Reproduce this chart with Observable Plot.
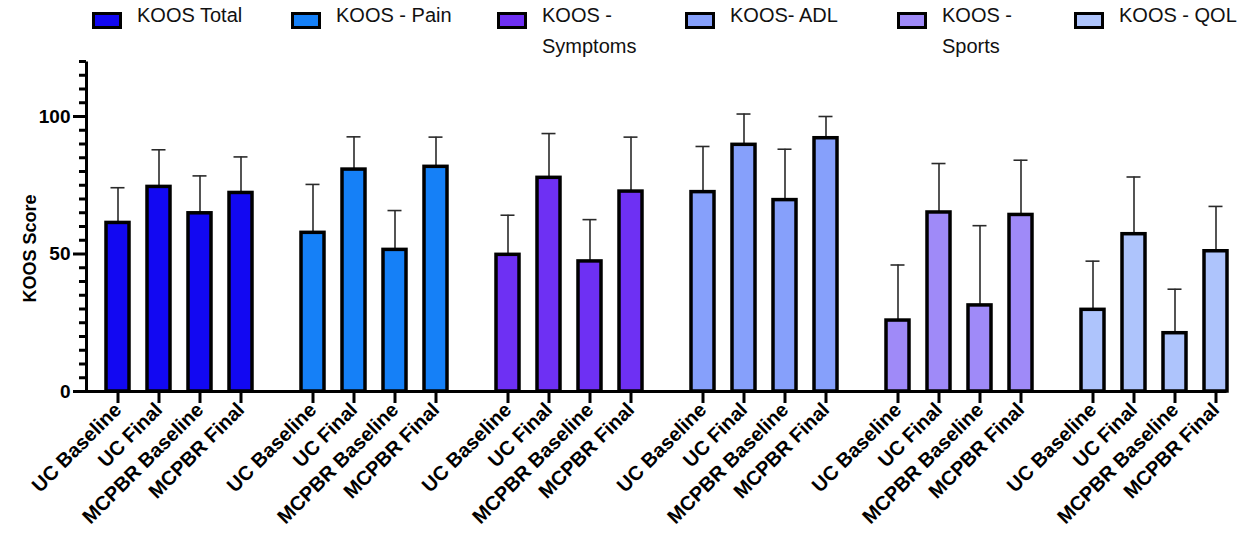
<!DOCTYPE html>
<html>
<head>
<meta charset="utf-8">
<script src="https://cdn.jsdelivr.net/npm/d3@7"></script>
<script src="https://cdn.jsdelivr.net/npm/@observablehq/plot@0.6"></script>
<style>
  html, body { margin: 0; padding: 0; background: #fff; }
  #wrap { position: relative; width: 1258px; height: 534px; font-family: "Liberation Sans", Arial, sans-serif; }
  #legend { position: absolute; top: 6px; left: 0; display: flex; padding-left: 92px; }
  .item { display: flex; align-items: flex-start; }
  .sw { width: 30px; height: 17px; box-sizing: border-box; border: 3px solid #000; margin-top: 6px; margin-right: 15px; flex: none; }
  .lab { font-size: 20px; line-height: 31px; white-space: pre-line; color: #111; margin-top: -6px; }
  #chart { position: absolute; top: 0; left: 0; }
</style>
</head>
<body>
<div id="wrap">
  <div id="chart"></div>
  <div id="legend"></div>
</div>
<script>
// ---- data ----
const groups = ["KOOS Total", "KOOS - Pain", "KOOS - Symptoms", "KOOS- ADL", "KOOS - Sports", "KOOS - QOL"];
const legendLabels = ["KOOS Total", "KOOS - Pain", "KOOS -\nSymptoms", "KOOS- ADL", "KOOS -\nSports", "KOOS - QOL"];
const conditions = ["UC Baseline", "UC Final", "MCPBR Baseline", "MCPBR Final"];
const colors = ["#1208f2", "#1580f7", "#6e30f3", "#86a0fb", "#9f8af8", "#aec4fc"];

const meanTotal    = [61.3, 74.4, 64.8, 72.2];
const meanPain     = [57.7, 80.7, 51.5, 81.7];
const meanSymptoms = [49.7, 77.7, 47.3, 72.7];
const meanADL      = [72.5, 89.7, 69.6, 92.1];
const meanSports   = [25.8, 65.1, 31.3, 64.2];
const meanQOL      = [29.7, 57.2, 21.2, 51.0];

const sdTotal    = [12.8, 13.5, 13.6, 13.1];
const sdPain     = [17.6, 11.9, 14.3, 10.8];
const sdSymptoms = [14.4, 16.1, 15.2, 19.8];
const sdADL      = [16.6, 11.2, 18.5, 7.9];
const sdSports   = [20.2, 17.8, 29.0, 19.9];
const sdQOL      = [17.7, 20.8, 16.0, 16.3];

const yMajorTicks = [0, 50, 100];
const yMinorTicks = [5, 10, 15, 20, 25, 30, 35, 40, 45, 55, 60, 65, 70, 75, 80, 85, 90, 95, 105, 110, 115, 120];

const means = [meanTotal, meanPain, meanSymptoms, meanADL, meanSports, meanQOL];
const sds = [sdTotal, sdPain, sdSymptoms, sdADL, sdSports, sdQOL];

const table = groups.flatMap((g, gi) => conditions.map((c, ci) => ({
  group: g, cond: c, mean: means[gi][ci], sd: sds[gi][ci]
})));

// ---- layout ----
const W = 1258, H = 534;
const mL = 84, mR = 26, mT = 61, mB = 143;
const fw = W - mL - mR, fh = H - mT - mB;
const font = "Liberation Sans, Arial, sans-serif";

const chart = Plot.plot({
  width: W, height: H,
  marginLeft: mL, marginRight: mR, marginTop: mT, marginBottom: mB,
  style: { fontFamily: font, background: "transparent", color: "#000" },
  fx: { domain: groups, paddingInner: 0.131, paddingOuter: 0, axis: null, label: null },
  x: { domain: conditions, paddingInner: 0.45, paddingOuter: 0.258, align: 0.856, label: null },
  y: { domain: [0, 120], label: null },
  color: { domain: groups, range: colors },
  marks: [
    Plot.ruleX(table, { fx: "group", x: "cond", y1: "mean", y2: d => d.mean + d.sd, stroke: "#2a2a2a", strokeWidth: 1.6 }),
    Plot.tickY(table, { fx: "group", x: "cond", y: d => d.mean + d.sd, stroke: "#2a2a2a", strokeWidth: 1.6, inset: 4.5 }),
    Plot.barY(table, { fx: "group", x: "cond", y: "mean", fill: "group", stroke: "#000", strokeWidth: 3.5 }),
    Plot.frame({ facet: "super", stroke: "#000", strokeWidth: 3, strokeDasharray: `0,${fw + fh},${fw + fh}` }),
    Plot.axisY(yMinorTicks, { tickSize: 7, strokeWidth: 3, text: null, label: null }),
    Plot.axisY(yMajorTicks, { tickSize: 13, tickPadding: 3, strokeWidth: 3, fontSize: 19, fontWeight: "bold", label: null }),
    Plot.axisX({ tickSize: 12, strokeWidth: 3, tickRotate: -45, fontSize: 20, fontWeight: "bold", tickPadding: 3, label: null }),
    Plot.text(["KOOS Score"], { facet: "super", frameAnchor: "left", textAnchor: "middle", rotate: -90, dx: -56, dy: 22, fontSize: 18, fontWeight: "bold", fill: "#000" })
  ]
});
document.getElementById("chart").appendChild(chart);

// ---- legend ----
const itemWidths = [199, 206, 188, 212, 177, 180];
const legend = document.getElementById("legend");
legendLabels.forEach((lab, i) => {
  const item = document.createElement("div");
  item.className = "item";
  item.style.width = itemWidths[i] + "px";
  const sw = document.createElement("div");
  sw.className = "sw";
  sw.style.background = colors[i];
  const t = document.createElement("div");
  t.className = "lab";
  t.textContent = lab;
  item.appendChild(sw);
  item.appendChild(t);
  legend.appendChild(item);
});
</script>
</body>
</html>
